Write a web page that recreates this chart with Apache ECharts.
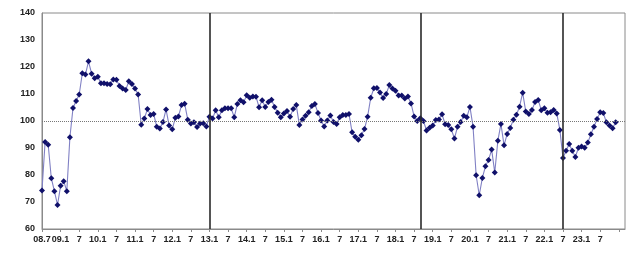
<!DOCTYPE html>
<html>
<head>
<meta charset="utf-8">
<script src="https://cdn.jsdelivr.net/npm/echarts@6/dist/echarts.min.js"></script>
<style>
html,body{margin:0;padding:0;background:#fff;}
#c{width:640px;height:255px;}
</style>
</head>
<body>
<div id="c"></div>
<script>
// Monthly index, 2008.7 – 2023.12
var startYear = 2008, startMonth = 7, axisMonths = 189; // axis runs to 2024.3
var values = [
  74.3, 92.2, 91.2, 78.8, 74.0, 68.9,            // 08.7-08.12
  76.0, 77.7, 74.0, 94.0, 104.8, 107.4,          // 09.1-09.6
  109.8, 117.7, 117.2, 122.1, 117.5, 115.8,      // 09.7-09.12
  116.4, 114.0, 114.0, 113.7, 113.6, 115.4,      // 10.1-10.6
  115.3, 113.0, 112.0, 111.5, 114.7, 113.7,      // 10.7-10.12
  112.0, 109.8, 98.6, 100.9, 104.4, 102.2,       // 11.1-11.6
  102.6, 97.9, 97.2, 99.6, 104.3, 98.3,          // 11.7-11.12
  96.9, 101.2, 101.7, 105.9, 106.4, 100.5,       // 12.1-12.6
  99.1, 99.5, 97.8, 99.1, 99.2, 98.0,            // 12.7-12.12
  101.6, 100.9, 104.0, 101.4, 104.0, 104.7,      // 13.1-13.6
  104.7, 104.7, 101.4, 106.3, 107.7, 106.9,      // 13.7-13.12
  109.5, 108.6, 109.1, 109.0, 105.1, 107.7,      // 14.1-14.6
  105.2, 107.0, 107.9, 105.2, 103.1, 101.4,      // 14.7-14.12
  102.8, 103.7, 101.6, 104.4, 105.9, 98.5,       // 15.1-15.6
  100.6, 101.9, 103.2, 105.6, 106.3, 103.0,      // 15.7-15.12
  100.2, 98.0, 100.2, 102.0, 99.6, 98.9,         // 16.1-16.6
  101.4, 102.2, 102.2, 102.6, 95.8, 94.2,        // 16.7-16.12
  93.1, 94.7, 97.0, 101.6, 108.6, 112.1,         // 17.1-17.6
  112.2, 110.6, 108.5, 110.0, 113.3, 112.0,      // 17.7-17.12
  111.2, 109.4, 109.4, 108.3, 109.1, 106.5,      // 18.1-18.6
  101.7, 100.0, 101.0, 100.0, 96.5, 97.5,        // 18.7-18.12
  98.3, 100.4, 100.6, 102.5, 98.8, 98.5,         // 19.1-19.6
  96.9, 93.5, 97.9, 99.6, 101.9, 101.4,          // 19.7-19.12
  105.2, 97.9, 79.9, 72.5, 78.9, 83.2,           // 20.1-20.6
  85.6, 89.4, 80.9, 92.7, 98.9, 91.0,            // 20.7-20.12
  95.2, 97.4, 100.5, 102.3, 105.3, 110.5,        // 21.1-21.6
  103.5, 102.6, 104.1, 107.0, 107.8, 104.0,      // 21.7-21.12
  104.7, 103.1, 103.2, 104.1, 102.8, 96.7,       // 22.1-22.6
  86.3, 89.0, 91.5, 89.0, 86.7, 90.1,            // 22.7-22.12
  90.6, 90.1, 92.0, 95.1, 97.9, 100.7,           // 23.1-23.6
  103.2, 103.0, 99.5, 98.3, 97.3, 99.5           // 23.7-23.12
];
// labels shown every 6 months
var tickLabels = ["08.7","09.1","7","10.1","7","11.1","7","12.1","7","13.1","7",
  "14.1","7","15.1","7","16.1","7","17.1","7","18.1","7","19.1","7","20.1","7",
  "21.1","7","22.1","7","23.1","7"];
var dividerMonths = ["13.1", "18.9", "22.7"];
var yTicks = { min: 60, max: 140, interval: 10 };
var baseline = 100;

var categories = [];
for (var k = 0; k < axisMonths; k++) {
  var m = startMonth - 1 + k;
  var yy = startYear + Math.floor(m / 12);
  var mm = (m % 12) + 1;
  categories.push(String(yy % 100).padStart(2, "0") + "." + mm);
}
var seriesData = categories.map(function (c, i) { return i < values.length ? values[i] : null; });

var chart = echarts.init(document.getElementById('c'), null, { renderer: 'canvas' });
var labelFont = { fontFamily: 'Liberation Sans, Arial, sans-serif', fontSize: 9, fontWeight: 'bold', color: '#222' };

chart.setOption({
  animation: false,
  backgroundColor: '#fff',
  grid: { left: 42, right: 15, top: 13, bottom: 26, show: true, borderColor: '#8a8a8a', borderWidth: 1 },
  xAxis: {
    type: 'category',
    data: categories,
    boundaryGap: false,
    axisLine: { lineStyle: { color: '#8a8a8a', width: 1 } },
    axisTick: { show: true, interval: function (i) { return i % 6 === 0; }, length: 3, lineStyle: { color: '#8a8a8a' } },
    axisLabel: Object.assign({
      interval: function (i) { return i % 6 === 0 && (i / 6) < tickLabels.length; },
      formatter: function (v, i) { return tickLabels[i / 6] || ''; },
      margin: 6
    }, labelFont),
    splitLine: { show: false }
  },
  yAxis: {
    type: 'value',
    min: yTicks.min, max: yTicks.max, interval: yTicks.interval,
    axisLine: { show: true, lineStyle: { color: '#8a8a8a' } },
    axisTick: { show: false },
    axisLabel: Object.assign({ margin: 7 }, labelFont),
    splitLine: { show: false }
  },
  series: [{
    type: 'line',
    data: seriesData,
    connectNulls: false,
    showAllSymbol: true,
    symbol: 'diamond',
    symbolSize: 6,
    itemStyle: { color: '#10106a' },
    lineStyle: { color: '#8080c4', width: 1.1 },
    markLine: {
      silent: true,
      symbol: 'none',
      label: { show: false },
      data: [
        { yAxis: baseline, lineStyle: { color: '#777', type: [1, 1], width: 1 } }
      ].concat(dividerMonths.map(function (c) {
        return { xAxis: c, lineStyle: { color: '#2a2a2a', type: 'solid', width: 1.6 } };
      }))
    }
  }]
});
</script>
</body>
</html>
